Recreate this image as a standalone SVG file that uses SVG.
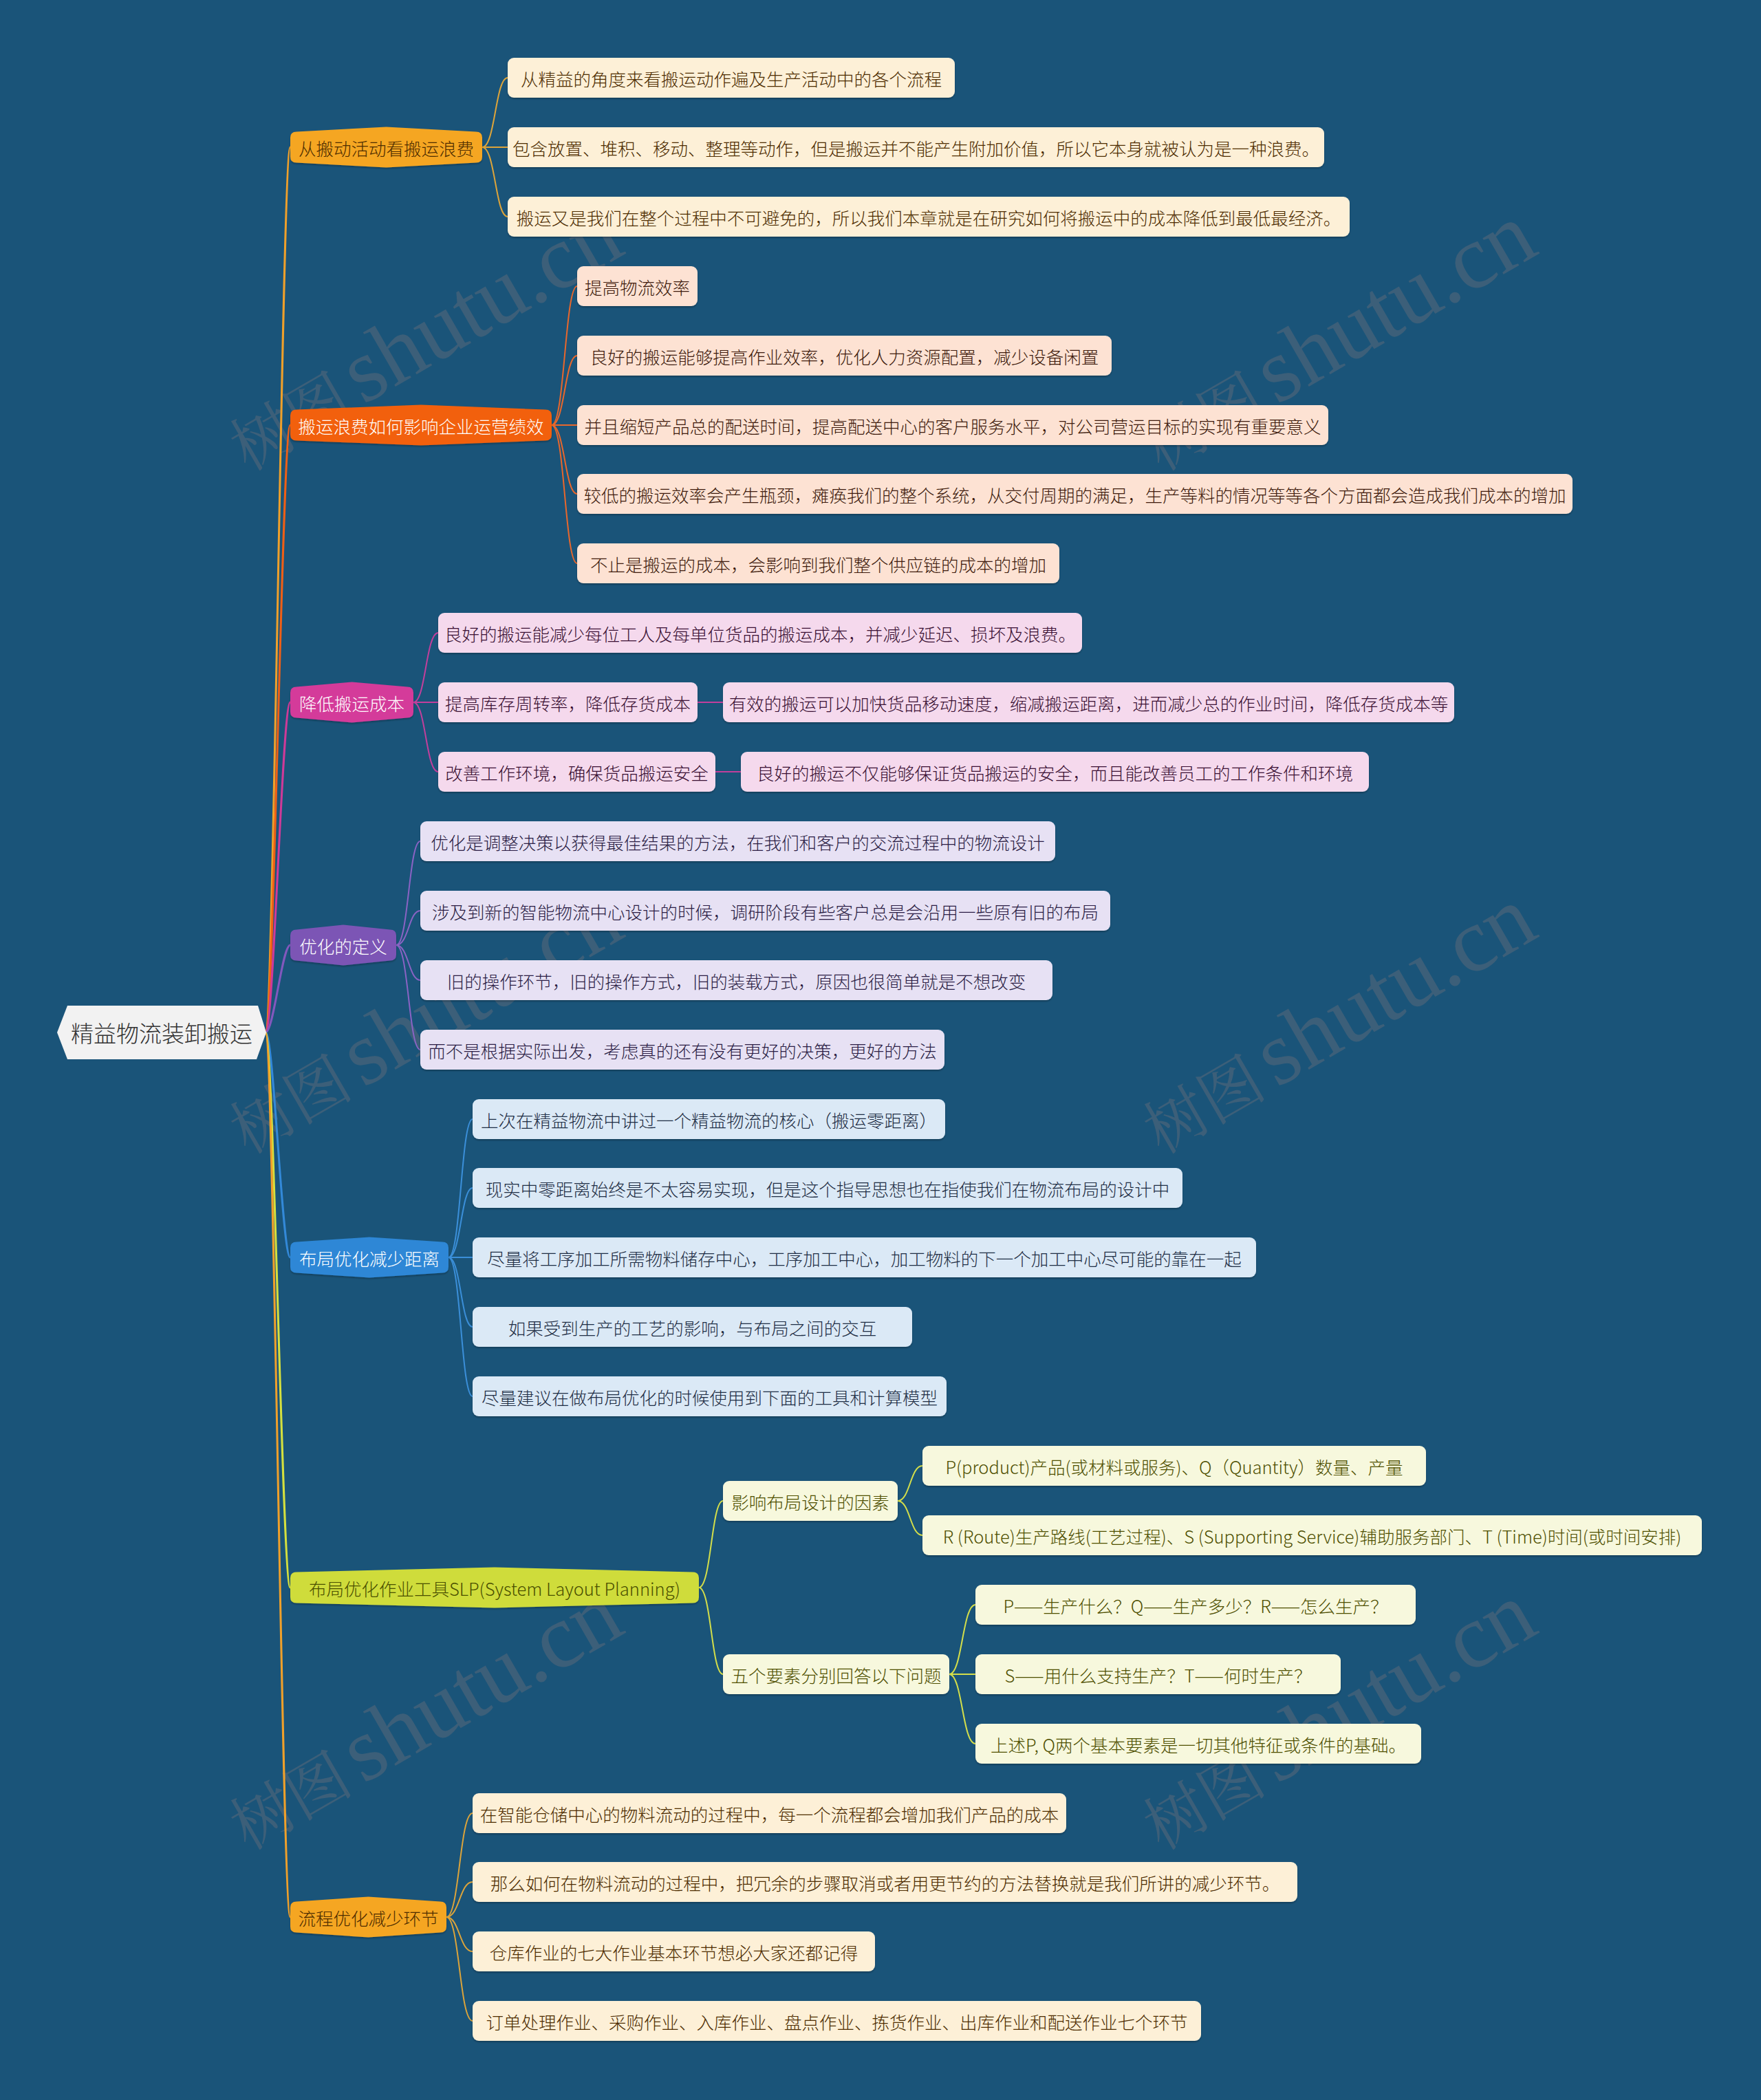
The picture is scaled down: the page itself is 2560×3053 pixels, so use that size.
<svg xmlns="http://www.w3.org/2000/svg" width="2560" height="3053" viewBox="0 0 2560 3053">
<defs>
<filter id="sh" x="-5%" y="-20%" width="110%" height="150%">
<feDropShadow dx="0" dy="2" stdDeviation="1" flood-color="#000" flood-opacity="0.25"/>
</filter>
</defs>
<style>
text{font-family:"Noto Sans CJK SC","Noto Sans",sans-serif;dominant-baseline:central;text-anchor:middle;font-weight:300}
.t{font-size:25.5px}
.root{font-size:33px;fill:#333}
.c{fill:none;stroke-linecap:round}
.ct{stroke-width:3}
.cl{stroke-width:2}
.wm{dominant-baseline:alphabetic;text-anchor:start;fill:#957c79;opacity:0.28;font-weight:400}
.wc{font-family:"Noto Serif CJK SC","Noto Sans CJK SC",serif;font-size:90px}
.wl{font-family:"Liberation Serif",serif;font-size:132px}
.n{filter:url(#sh)}
.o{fill:#fdf0d7}.ot{fill:#4d2c00}
.r{fill:#fde2d3}.rt{fill:#3d1a0c}
.m{fill:#f5d9ed}.mt{fill:#3a1033}
.p{fill:#e7e1f4}.pt{fill:#2b1d44}
.b{fill:#dbe9f6}.bt{fill:#1e2d44}
.y{fill:#f7f8dd}.yt{fill:#4e4f00}
</style>
<rect width="2560" height="3053" fill="#1a5479"/>
<g id="watermarks">
<text class="wm" transform="translate(360,686) rotate(-30)"><tspan class="wc">树图</tspan><tspan class="wl" dx="14">shutu.cn</tspan></text>
<text class="wm" transform="translate(1688,686) rotate(-30)"><tspan class="wc">树图</tspan><tspan class="wl" dx="14">shutu.cn</tspan></text>
<text class="wm" transform="translate(360,1679) rotate(-30)"><tspan class="wc">树图</tspan><tspan class="wl" dx="14">shutu.cn</tspan></text>
<text class="wm" transform="translate(1688,1679) rotate(-30)"><tspan class="wc">树图</tspan><tspan class="wl" dx="14">shutu.cn</tspan></text>
<text class="wm" transform="translate(360,2691) rotate(-30)"><tspan class="wc">树图</tspan><tspan class="wl" dx="14">shutu.cn</tspan></text>
<text class="wm" transform="translate(1688,2691) rotate(-30)"><tspan class="wc">树图</tspan><tspan class="wl" dx="14">shutu.cn</tspan></text>
</g>
<g id="connectors">
<g class="c ct">
<path stroke="#f0a02a" d="M386 1501 C398 1501 410 214 422 214"/>
<path stroke="#ef5f16" d="M386 1501 C398 1501 410 618 422 618"/>
<path stroke="#cf3a98" d="M386 1501 C398 1501 410 1021 422 1021"/>
<path stroke="#8258bd" d="M386 1501 C398 1501 410 1374 422 1374"/>
<path stroke="#3389d8" d="M386 1501 C398 1501 410 1828 422 1828"/>
<path stroke="#d5e03e" d="M386 1501 C398 1501 410 2308 422 2308"/>
<path stroke="#f0a02a" d="M386 1501 C398 1501 410 2787 422 2787"/>
</g>
<g class="c cl" stroke="#dda43a">
<path d="M701 214 C720 214 720 113 738 113"/>
<path d="M701 214 L738 214"/>
<path d="M701 214 C720 214 720 315 738 315"/>
</g>
<g class="c cl" stroke="#e8672c">
<path d="M802 618 C821 618 821 416 839 416"/>
<path d="M802 618 C821 618 821 517 839 517"/>
<path d="M802 618 L839 618"/>
<path d="M802 618 C821 618 821 718 839 718"/>
<path d="M802 618 C821 618 821 819 839 819"/>
</g>
<g class="c cl" stroke="#c23f9c">
<path d="M601 1021 C619 1021 619 920 637 920"/>
<path d="M601 1021 L637 1021"/>
<path d="M601 1021 C619 1021 619 1122 637 1122"/>
<path d="M1014 1021 L1051 1021"/>
<path d="M1040 1122 L1077 1122"/>
</g>
<g class="c cl" stroke="#8a63c4">
<path d="M576 1374 C594 1374 594 1223 611 1223"/>
<path d="M576 1374 C594 1374 594 1324 611 1324"/>
<path d="M576 1374 C594 1374 594 1425 611 1425"/>
<path d="M576 1374 C594 1374 594 1526 611 1526"/>
</g>
<g class="c cl" stroke="#3b8fd9">
<path d="M652 1828 C670 1828 670 1627 687 1627"/>
<path d="M652 1828 C670 1828 670 1727 687 1727"/>
<path d="M652 1828 L687 1828"/>
<path d="M652 1828 C670 1828 670 1929 687 1929"/>
<path d="M652 1828 C670 1828 670 2030 687 2030"/>
</g>
<g class="c cl" stroke="#d4de4a">
<path d="M1016 2308 C1034 2308 1034 2182 1051 2182"/>
<path d="M1016 2308 C1034 2308 1034 2434 1051 2434"/>
<path d="M1305 2182 C1323 2182 1323 2131 1341 2131"/>
<path d="M1305 2182 C1323 2182 1323 2232 1341 2232"/>
<path d="M1380 2434 C1399 2434 1399 2333 1418 2333"/>
<path d="M1380 2434 L1418 2434"/>
<path d="M1380 2434 C1399 2434 1399 2535 1418 2535"/>
</g>
<g class="c cl" stroke="#dda43a">
<path d="M649 2787 C668 2787 668 2636 687 2636"/>
<path d="M649 2787 C668 2787 668 2736 687 2736"/>
<path d="M649 2787 C668 2787 668 2837 687 2837"/>
<path d="M649 2787 C668 2787 668 2938 687 2938"/>
</g>
</g>
<g id="root">
<path d="M83 1501 L98 1462 L375 1462 L387 1501 L373 1540 L98 1540 Z" fill="#f2f2f2"/>
<text class="root" x="235" y="1501">精益物流装卸搬运</text>
</g>
<g id="b1">
<path class="n" fill="#f5a623" d="M422 200 Q422 191.5 431 191.5 L561.5 184.5 L692 191.5 Q701 191.5 701 200 L701 228 Q701 236.5 692 236.5 L561.5 243.5 L431 236.5 Q422 236.5 422 228 Z"/>
<text class="t" x="561.5" y="214" fill="#4d2c00">从搬动活动看搬运浪费</text>
</g>
<g id="b1-1"><rect class="o n" x="738" y="84" width="650" height="58" rx="9"/><text class="t ot" x="1063" y="113">从精益的角度来看搬运动作遍及生产活动中的各个流程</text></g>
<g id="b1-2"><rect class="o n" x="738" y="185" width="1187" height="58" rx="9"/><text class="t ot" x="1331.5" y="214">包含放置、堆积、移动、整理等动作，但是搬运并不能产生附加价值，所以它本身就被认为是一种浪费。</text></g>
<g id="b1-3"><rect class="o n" x="738" y="286" width="1224" height="58" rx="9"/><text class="t ot" x="1350" y="315">搬运又是我们在整个过程中不可避免的，所以我们本章就是在研究如何将搬运中的成本降低到最低最经济。</text></g>
<g id="b2">
<path class="n" fill="#f2600c" d="M422 604 Q422 595.5 431 595.5 L612 588.5 L793 595.5 Q802 595.5 802 604 L802 632 Q802 640.5 793 640.5 L612 647.5 L431 640.5 Q422 640.5 422 632 Z"/>
<text class="t" x="612" y="618" fill="#ffffff">搬运浪费如何影响企业运营绩效</text>
</g>
<g id="b2-1"><rect class="r n" x="839" y="387" width="175" height="58" rx="9"/><text class="t rt" x="926.5" y="416">提高物流效率</text></g>
<g id="b2-2"><rect class="r n" x="839" y="488" width="777" height="58" rx="9"/><text class="t rt" x="1227.5" y="517">良好的搬运能够提高作业效率，优化人力资源配置，减少设备闲置</text></g>
<g id="b2-3"><rect class="r n" x="839" y="589" width="1092" height="58" rx="9"/><text class="t rt" x="1385" y="618">并且缩短产品总的配送时间，提高配送中心的客户服务水平，对公司营运目标的实现有重要意义</text></g>
<g id="b2-4"><rect class="r n" x="839" y="689" width="1447" height="58" rx="9"/><text class="t rt" x="1562.5" y="718">较低的搬运效率会产生瓶颈，瘫痪我们的整个系统，从交付周期的满足，生产等料的情况等等各个方面都会造成我们成本的增加</text></g>
<g id="b2-5"><rect class="r n" x="839" y="790" width="701" height="58" rx="9"/><text class="t rt" x="1189.5" y="819">不止是搬运的成本，会影响到我们整个供应链的成本的增加</text></g>
<g id="b3">
<path class="n" fill="#d43a9a" d="M422 1007 Q422 998.5 431 998.5 L511.5 991.5 L592 998.5 Q601 998.5 601 1007 L601 1035 Q601 1043.5 592 1043.5 L511.5 1050.5 L431 1043.5 Q422 1043.5 422 1035 Z"/>
<text class="t" x="511.5" y="1021" fill="#ffffff">降低搬运成本</text>
</g>
<g id="b3-1"><rect class="m n" x="637" y="891" width="936" height="58" rx="9"/><text class="t mt" x="1105" y="920">良好的搬运能减少每位工人及每单位货品的搬运成本，并减少延迟、损坏及浪费。</text></g>
<g id="b3-2"><rect class="m n" x="637" y="992" width="377" height="58" rx="9"/><text class="t mt" x="825.5" y="1021">提高库存周转率，降低存货成本</text></g>
<g id="b3-2-1"><rect class="m n" x="1051" y="992" width="1063" height="58" rx="9"/><text class="t mt" x="1582.5" y="1021">有效的搬运可以加快货品移动速度，缩减搬运距离，进而减少总的作业时间，降低存货成本等</text></g>
<g id="b3-3"><rect class="m n" x="637" y="1093" width="403" height="58" rx="9"/><text class="t mt" x="838.5" y="1122">改善工作环境，确保货品搬运安全</text></g>
<g id="b3-3-1"><rect class="m n" x="1077" y="1093" width="913" height="58" rx="9"/><text class="t mt" x="1533.5" y="1122">良好的搬运不仅能够保证货品搬运的安全，而且能改善员工的工作条件和环境</text></g>
<g id="b4">
<path class="n" fill="#7c55b5" d="M422 1360 Q422 1351.5 431 1351.5 L499 1344.5 L567 1351.5 Q576 1351.5 576 1360 L576 1388 Q576 1396.5 567 1396.5 L499 1403.5 L431 1396.5 Q422 1396.5 422 1388 Z"/>
<text class="t" x="499" y="1374" fill="#ffffff">优化的定义</text>
</g>
<g id="b4-1"><rect class="p n" x="611" y="1194" width="923" height="58" rx="9"/><text class="t pt" x="1072.5" y="1223">优化是调整决策以获得最佳结果的方法，在我们和客户的交流过程中的物流设计</text></g>
<g id="b4-2"><rect class="p n" x="611" y="1295" width="1003" height="58" rx="9"/><text class="t pt" x="1112.5" y="1324">涉及到新的智能物流中心设计的时候，调研阶段有些客户总是会沿用一些原有旧的布局</text></g>
<g id="b4-3"><rect class="p n" x="611" y="1396" width="919" height="58" rx="9"/><text class="t pt" x="1070.5" y="1425">旧的操作环节，旧的操作方式，旧的装载方式，原因也很简单就是不想改变</text></g>
<g id="b4-4"><rect class="p n" x="611" y="1497" width="762" height="58" rx="9"/><text class="t pt" x="992" y="1526">而不是根据实际出发，考虑真的还有没有更好的决策，更好的方法</text></g>
<g id="b5">
<path class="n" fill="#2d87d6" d="M422 1814 Q422 1805.5 431 1805.5 L537 1798.5 L643 1805.5 Q652 1805.5 652 1814 L652 1842 Q652 1850.5 643 1850.5 L537 1857.5 L431 1850.5 Q422 1850.5 422 1842 Z"/>
<text class="t" x="537" y="1828" fill="#ffffff">布局优化减少距离</text>
</g>
<g id="b5-1"><rect class="b n" x="687" y="1598" width="687" height="58" rx="9"/><text class="t bt" x="1030.5" y="1627">上次在精益物流中讲过一个精益物流的核心（搬运零距离）</text></g>
<g id="b5-2"><rect class="b n" x="687" y="1698" width="1032" height="58" rx="9"/><text class="t bt" x="1203" y="1727">现实中零距离始终是不太容易实现，但是这个指导思想也在指使我们在物流布局的设计中</text></g>
<g id="b5-3"><rect class="b n" x="687" y="1799" width="1139" height="58" rx="9"/><text class="t bt" x="1256.5" y="1828">尽量将工序加工所需物料储存中心，工序加工中心，加工物料的下一个加工中心尽可能的靠在一起</text></g>
<g id="b5-4"><rect class="b n" x="687" y="1900" width="639" height="58" rx="9"/><text class="t bt" x="1006.5" y="1929">如果受到生产的工艺的影响，与布局之间的交互</text></g>
<g id="b5-5"><rect class="b n" x="687" y="2001" width="689" height="58" rx="9"/><text class="t bt" x="1031.5" y="2030">尽量建议在做布局优化的时候使用到下面的工具和计算模型</text></g>
<g id="b6">
<path class="n" fill="#cfdc3a" d="M422 2294 Q422 2285.5 431 2285.5 L719 2278.5 L1007 2285.5 Q1016 2285.5 1016 2294 L1016 2322 Q1016 2330.5 1007 2330.5 L719 2337.5 L431 2330.5 Q422 2330.5 422 2322 Z"/>
<text class="t" x="719" y="2308" fill="#4a4f00">布局优化作业工具SLP(System Layout Planning)</text>
</g>
<g id="b6-1"><rect class="y n" x="1051" y="2153" width="254" height="58" rx="9"/><text class="t yt" x="1178" y="2182">影响布局设计的因素</text></g>
<g id="b6-1-1"><rect class="y n" x="1341" y="2102" width="732" height="58" rx="9"/><text class="t yt" x="1707" y="2131">P(product)产品(或材料或服务)、Q（Quantity）数量、产量</text></g>
<g id="b6-1-2"><rect class="y n" x="1341" y="2203" width="1133" height="58" rx="9"/><text class="t yt" x="1907.5" y="2232">R (Route)生产路线(工艺过程)、S (Supporting Service)辅助服务部门、T (Time)时间(或时间安排)</text></g>
<g id="b6-2"><rect class="y n" x="1051" y="2405" width="329" height="58" rx="9"/><text class="t yt" x="1215.5" y="2434">五个要素分别回答以下问题</text></g>
<g id="b6-2-1"><rect class="y n" x="1418" y="2304" width="640" height="58" rx="9"/><text class="t yt" x="1738" y="2333">P——生产什么？Q——生产多少？R——怎么生产？</text></g>
<g id="b6-2-2"><rect class="y n" x="1418" y="2405" width="531" height="58" rx="9"/><text class="t yt" x="1683.5" y="2434">S——用什么支持生产？T——何时生产？</text></g>
<g id="b6-2-3"><rect class="y n" x="1418" y="2506" width="648" height="58" rx="9"/><text class="t yt" x="1742" y="2535">上述P, Q两个基本要素是一切其他特征或条件的基础。</text></g>
<g id="b7">
<path class="n" fill="#f5a623" d="M422 2773 Q422 2764.5 431 2764.5 L535.5 2757.5 L640 2764.5 Q649 2764.5 649 2773 L649 2801 Q649 2809.5 640 2809.5 L535.5 2816.5 L431 2809.5 Q422 2809.5 422 2801 Z"/>
<text class="t" x="535.5" y="2787" fill="#4d2c00">流程优化减少环节</text>
</g>
<g id="b7-1"><rect class="o n" x="687" y="2607" width="863" height="58" rx="9"/><text class="t ot" x="1118.5" y="2636">在智能仓储中心的物料流动的过程中，每一个流程都会增加我们产品的成本</text></g>
<g id="b7-2"><rect class="o n" x="687" y="2707" width="1199" height="58" rx="9"/><text class="t ot" x="1286.5" y="2736">那么如何在物料流动的过程中，把冗余的步骤取消或者用更节约的方法替换就是我们所讲的减少环节。</text></g>
<g id="b7-3"><rect class="o n" x="687" y="2808" width="585" height="58" rx="9"/><text class="t ot" x="979.5" y="2837">仓库作业的七大作业基本环节想必大家还都记得</text></g>
<g id="b7-4"><rect class="o n" x="687" y="2909" width="1059" height="58" rx="9"/><text class="t ot" x="1216.5" y="2938">订单处理作业、采购作业、入库作业、盘点作业、拣货作业、出库作业和配送作业七个环节</text></g>
</svg>
